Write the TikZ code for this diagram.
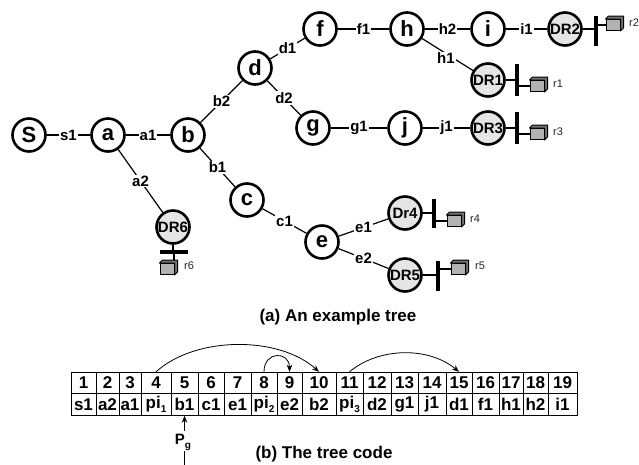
\documentclass[tikz,border=0pt]{standalone}
\usepackage{fontspec}
\setmainfont{Liberation Sans}
\usetikzlibrary{arrows.meta}

% small lowered index used in the tree code (pi_1, P_g, ...)
\newcommand\lowsub[1]{\raisebox{-0.5ex}{\fontsize{10}{10}\selectfont #1}}

\begin{document}
\begin{tikzpicture}[x=1pt,y=-1pt,
  vtx/.style={circle,draw,line width=2.6pt,minimum size=33pt,inner sep=0pt,
              fill=white,font=\fontsize{22}{22}\selectfont\bfseries},
  drnode/.style={vtx,fill=black!10,font=\fontsize{15}{15}\selectfont\bfseries},
  lnk/.style={line width=1.2pt},
  elab/.style={fill=white,inner sep=1pt,font=\fontsize{15}{15}\selectfont\bfseries},
  rbar/.style={rectangle,fill=black,inner sep=0pt,minimum width=4pt},
  rbox/.style={rectangle,draw=black,line width=1pt,fill=black!30,inner sep=0pt,
               minimum width=14pt,minimum height=11pt},
  rlab/.style={anchor=west,inner sep=0pt,text=black!85,font=\fontsize{11}{11}\selectfont},
  tcell/.style={rectangle,draw,line width=0.9pt,inner sep=0pt,minimum height=21.5pt,
                font=\fontsize{17}{17}\selectfont\bfseries},
  arr/.style={-{Stealth[length=7pt,width=5.5pt]},line width=0.8pt},
  captxt/.style={font=\fontsize{17}{17}\selectfont\bfseries}
]
\useasboundingbox (0,0) rectangle (639,464);
\fill[white] (0,0) rectangle (639,464);

% ---------- tree vertices ----------
\node[vtx] (S) at (29,135) {S};
\node[vtx] (a) at (108,135) {a};
\node[vtx] (b) at (188,135) {b};
\node[vtx] (d) at (255,68) {d};
\node[vtx] (f) at (320,29) {f};
\node[vtx] (h) at (407,29) {h};
\node[vtx] (i) at (488,29) {i};
\node[drnode] (DR2) at (565,29) {DR2};
\node[drnode] (DR1) at (488,80) {DR1};
\node[vtx] (g) at (313,128) {g};
\node[vtx] (j) at (405,128) {j};
\node[drnode] (DR3) at (488,128) {DR3};
\node[vtx] (c) at (247,200) {c};
\node[vtx] (e) at (322,242) {e};
\node[drnode] (Dr4) at (405,213) {Dr4};
\node[drnode] (DR5) at (405,275) {DR5};
\node[drnode] (DR6) at (173,227) {DR6};

% ---------- tree links ----------
\draw[lnk] (S) -- node[elab]{s1} (a);
\draw[lnk] (a) -- node[elab]{a1} (b);
\draw[lnk] (a) -- node[elab]{a2} (DR6);
\draw[lnk] (b) -- node[elab]{b2} (d);
\draw[lnk] (b) -- node[elab]{b1} (c);
\draw[lnk] (d) -- node[elab]{d1} (f);
\draw[lnk] (d) -- node[elab]{d2} (g);
\draw[lnk] (f) -- node[elab]{f1} (h);
\draw[lnk] (h) -- node[elab]{h2} (i);
\draw[lnk] (h) -- node[elab,pos=0.47,yshift=-5pt]{h1} (DR1);
\draw[lnk] (i) -- node[elab]{i1} (DR2);
\draw[lnk] (g) -- node[elab]{g1} (j);
\draw[lnk] (j) -- node[elab]{j1} (DR3);
\draw[lnk] (c) -- node[elab]{c1} (e);
\draw[lnk] (e) -- node[elab]{e1} (Dr4);
\draw[lnk] (e) -- node[elab]{e2} (DR5);

% ---------- receivers: bar, link, host box ----------
\node[rbar,minimum height=30pt] (k2) at (596,31) {};
\node[rbox] (x2) at (613,25) {};
\node[rlab] at (629,23) {r2};
\draw[lnk] (DR2.east) -- (DR2.east -| k2.west);
\draw[lnk] (k2.east |- x2.west) -- (x2.west);

\node[rbar,minimum height=32pt] (k1) at (517,80) {};
\node[rbox] (x1) at (537,86) {};
\node[rlab] at (553,84) {r1};
\draw[lnk] (DR1.east) -- (DR1.east -| k1.west);
\draw[lnk] (k1.east |- x1.west) -- (x1.west);

\node[rbar,minimum height=32pt] (k3) at (517,128) {};
\node[rbox] (x3) at (537,134) {};
\node[rlab] at (553,132) {r3};
\draw[lnk] (DR3.east) -- (DR3.east -| k3.west);
\draw[lnk] (k3.east |- x3.west) -- (x3.west);

\node[rbar,minimum height=29pt] (k4) at (434,213) {};
\node[rbox] (x4) at (454,221) {};
\node[rlab] at (470,219) {r4};
\draw[lnk] (Dr4.east) -- (Dr4.east -| k4.west);
\draw[lnk] (k4.east |- x4.west) -- (x4.west);

\node[rbar,minimum height=30pt] (k5) at (438,276) {};
\node[rbox] (x5) at (458,269) {};
\node[rlab] at (475,266) {r5};
\draw[lnk] (DR5.east) -- (DR5.east -| k5.west);
\draw[lnk] (k5.east |- x5.west) -- (x5.west);

\node[rbar,minimum width=28pt,minimum height=4.5pt] (k6) at (174,252) {};
\node[rbox] (x6) at (167,269) {};
\node[rlab] at (184,266) {r6};
\draw[lnk] (DR6.south) -- (DR6.south |- k6.north);
\draw[lnk] (k6.south) -- (k6.south |- x6.north);

% raised top and side faces of the host boxes
\foreach \bx in {x1,x2,x3,x4,x5,x6}
  \draw[line width=1pt,fill=black!55,line join=round]
    (\bx.north west) -- ++(3,-3) -- ([shift={(3,-3)}]\bx.north east)
    -- ([shift={(3,-3)}]\bx.south east) -- (\bx.south east)
    -- (\bx.north east) -- cycle;

% ---------- caption (a) ----------
\node[captxt] (capa) at (338,317) {(a) An example tree};

% ---------- tree code table ----------
\foreach \n/\l/\r/\lab in {1/71/96/s1, 2/96/119/a2, 3/119/141/a1,
    4/141/171/{pi\lowsub{1}}, 5/171/198/b1, 6/198/224/c1, 7/224/251/e1,
    8/251/277/{pi\lowsub{2}}, 9/277/302/e2, 10/302/336/b2,
    11/336/363/{pi\lowsub{3}}, 12/363/391/d2, 13/391/418/g1, 14/418/446/j1,
    15/446/472/d1, 16/472/499/f1, 17/499/523/h1, 18/523/548/h2, 19/548/577/i1}
{
  \pgfmathsetmacro\w{\r-\l}
  \pgfmathsetmacro\m{(\r+\l)/2}
  \node[tcell,minimum width=\w pt] (t\n) at (\m,383) {\n};
  \node[tcell,minimum width=\w pt] (u\n) at (\m,404.5) {\lab};
}

% jumps over subtrees
\draw[arr] (t4.north) .. controls +(40,-36) and +(-40,-36) .. (t10.north);
\draw[arr] (t8.north) .. controls +(0,-21) and +(0,-21) .. (t9.north);
\draw[arr] (t11.north) .. controls +(30,-25) and +(-30,-25) .. (t15.north);

% pointer P_g
\node[inner sep=1pt,font=\fontsize{15}{15}\selectfont\bfseries] (pg) at (183,442) {P\lowsub{g}};
\draw[arr] ([yshift=2pt]pg.north -| u5.south) -- (u5.south);
\coordinate (pgend) at (184,470);
\draw[line width=0.8pt] (pg.south -| pgend) -- (pgend);

% ---------- caption (b) ----------
\node[captxt] (capb) at (324,454) {(b) The tree code};
\end{tikzpicture}
\end{document}
